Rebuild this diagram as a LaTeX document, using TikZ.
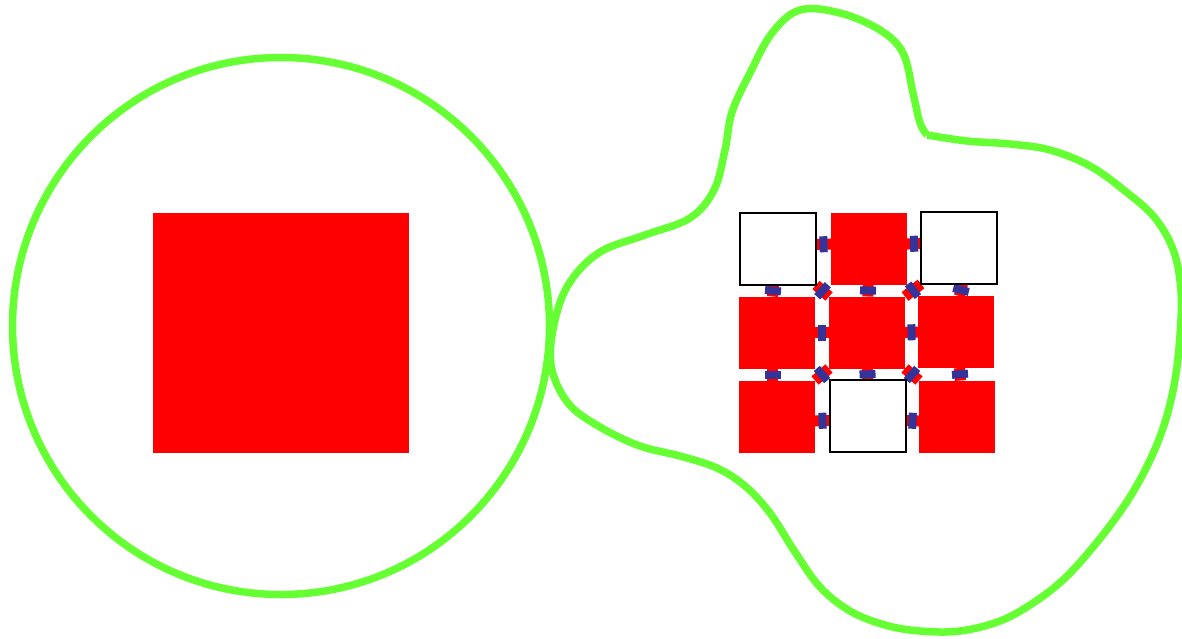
\documentclass[tikz,border=0pt]{standalone}
\usetikzlibrary{backgrounds}
\definecolor{wallgreen}{RGB}{102,255,51}
\definecolor{plugblue}{RGB}{51,51,153}

\begin{document}
\begin{tikzpicture}[x=1pt,y=-1pt,
  cell/.style={minimum width=76pt,minimum height=72pt,inner sep=0pt,outer sep=0pt},
  full/.style={cell,fill=red},
  empty/.style={cell,draw=black,line width=1.5pt,fill=white},
  link/.style={draw=red,line width=11pt},
  plug/.style={fill=plugblue,minimum width=8pt,minimum height=16pt,inner sep=0pt,sloped},
  wall/.style={draw=wallgreen,line width=7.5pt,line join=round}]

\useasboundingbox (0,0) rectangle (1182,638);

% left: one big block in a ring
\node[wall,circle,minimum size=537pt,inner sep=0pt] (ring) at (281,326) {};
\node[fill=red,minimum width=256pt,minimum height=240pt,inner sep=0pt] (block) at (281,333) {};

% right: the blob (starts and ends at its one sharp bend)
\draw[wall] plot[smooth,tension=0.6] coordinates {
  (927,135) (967,141) (1010,144) (1050,150) (1090,166) (1125,191)
  (1155,218) (1174,252) (1181,292) (1180,335) (1175,380) (1165,422)
  (1150,460) (1128,500) (1098,541) (1065,578) (1033,603) (1000,621)
  (960,631) (920,631) (885,625) (850,611) (820,587) (795,552)
  (770,513) (745,486) (717,468) (680,456) (640,446) (600,427)
  (568,403) (551,365) (555,320) (570,282) (600,252) (645,235)
  (690,218) (714,190) (725,150) (732,112) (750,73) (772,33)
  (800,10) (840,13) (880,30) (903,53) (913,93) (920,123) (927,135)};

% the 3x3 grid
\node[empty] (tl) at (778,249) {};
\node[full]  (tm) at (869,248.5) {};
\node[empty] (tr) at (959,248) {};
\node[full]  (ml) at (777,332.5) {};
\node[full]  (c)  at (867,332.5) {};
\node[full]  (mr) at (956,332) {};
\node[full]  (bl) at (777,416.5) {};
\node[empty] (bm) at (868,416) {};
\node[full]  (br) at (957,416.5) {};

\begin{scope}[on background layer]
  % rows
  \draw[link] ([yshift=4.5pt]tl.east) -- node[plug]{} ([yshift=4.5pt]tm.west);
  \draw[link] ([yshift=4.5pt]tm.east) -- node[plug]{} ([yshift=4.5pt]tr.west);
  \draw[link] (ml) -- node[plug]{} (c);
  \draw[link] (c) -- node[plug]{} (mr);
  \draw[link] ([yshift=-4.5pt]bl.east) -- node[plug]{} ([yshift=-4.5pt]bm.west);
  \draw[link] ([yshift=-4.5pt]bm.east) -- node[plug]{} ([yshift=-4.5pt]br.west);
  % columns
  \draw[link] ([xshift=-4.5pt]tl.south) -- node[plug]{} ([xshift=-4.5pt]ml.north);
  \draw[link] ([xshift=-4.5pt]ml.south) -- node[plug]{} ([xshift=-4.5pt]bl.north);
  \draw[link] (tm) -- node[plug]{} (c);
  \draw[link] (c) -- node[plug]{} (bm);
  \draw[link] ([xshift=3.5pt]tr.south) -- node[plug]{} ([xshift=3.5pt]mr.north);
  \draw[link] ([xshift=3.5pt]mr.south) -- node[plug]{} ([xshift=3.5pt]br.north);
  % diagonals
  \draw[link] (c.north west) -- node[plug]{} (tl.south east);
  \draw[link] (c.north east) -- node[plug]{} (tr.south west);
  \draw[link] (c.south west) -- node[plug]{} (bl.north east);
  \draw[link] (c.south east) -- node[plug]{} (br.north west);
\end{scope}

\end{tikzpicture}
\end{document}
